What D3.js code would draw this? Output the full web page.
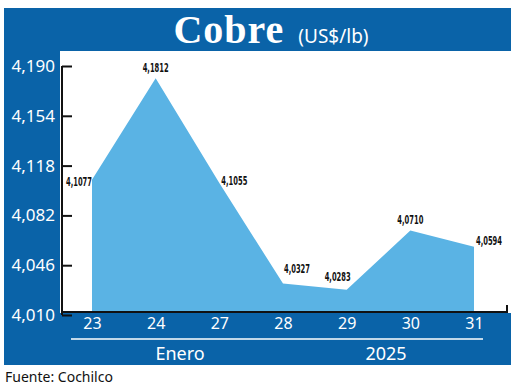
<!DOCTYPE html>
<html>
<head>
<meta charset="utf-8">
<script src="https://cdn.jsdelivr.net/npm/d3@7"></script>
<style>
  body { margin: 0; background: #fff; }
  svg { display: block; }
</style>
</head>
<body>
<div id="chart"></div>
<script>
// data
const days = ["23", "24", "27", "28", "29", "30", "31"]
const prices = [4.1077, 4.1812, 4.1055, 4.0327, 4.0283, 4.0710, 4.0594]
const priceLabels = ["4,1077", "4,1812", "4,1055", "4,0327", "4,0283", "4,0710", "4,0594"]
const yTicks = [4.010, 4.046, 4.082, 4.118, 4.154, 4.190]
const yTickLabels = ["4,010", "4,046", "4,082", "4,118", "4,154", "4,190"]

// where each value label sits relative to its point: [dx, dy, anchor]
const labelPlace = [[-26, 6, "start"], [0, -6, "middle"], [2, 2, "start"], [14, -11, "middle"],
                    [-9, -9, "middle"], [0, -7, "middle"], [2, -2, "start"]]

const W = 520, H = 387
const blue = "#0a63a8", areaBlue = "#5ab3e4"

const svg = d3.select("#chart").append("svg")
    .attr("width", W)
    .attr("height", H)

// blue panel
svg.append("rect").attr("x", 4).attr("y", 8).attr("width", 507).attr("height", 357).attr("fill", blue)
// white plot area
svg.append("rect").attr("x", 60).attr("y", 51).attr("width", 460).attr("height", 262).attr("fill", "#fff")

// title
const title = svg.append("text")
    .attr("x", 271).attr("y", 43)
    .attr("text-anchor", "middle")
    .attr("fill", "#fff")
title.append("tspan")
    .attr("font-family", "'Liberation Serif', 'DejaVu Serif', serif")
    .attr("font-weight", "bold")
    .attr("font-size", 40)
    .attr("letter-spacing", 1)
    .text("Cobre")
title.append("tspan")
    .attr("dx", 14)
    .attr("font-family", "'Noto Sans', sans-serif")
    .attr("font-size", 19)
    .text("(US$/lb)")

const x = d3.scalePoint().domain(days).range([92, 474])
const y = d3.scaleLinear().domain([4.010, 4.190]).range([315, 66])
const baseY = 312

const area = d3.area()
    .x((d, i) => x(days[i]))
    .y0(baseY)
    .y1(d => y(d))

svg.append("path")
    .datum(prices)
    .attr("d", area)
    .attr("fill", areaBlue)

// value labels, squeezed to look condensed
svg.append("g")
    .selectAll("text")
    .data(prices)
    .join("text")
    .attr("x", (d, i) => x(days[i]) + labelPlace[i][0])
    .attr("y", (d, i) => y(d) + labelPlace[i][1])
    .attr("text-anchor", (d, i) => labelPlace[i][2])
    .attr("font-family", "'DejaVu Sans', sans-serif")
    .attr("font-weight", "bold")
    .attr("font-size", 13)
    .attr("textLength", 26)
    .attr("lengthAdjust", "spacingAndGlyphs")
    .attr("fill", "#111")
    .text((d, i) => priceLabels[i])

// y axis
const yAxis = svg.append("g")
    .attr("transform", "translate(62,0)")
    .call(d3.axisRight(y).tickValues(yTicks).tickSize(10).tickFormat((d, i) => ""))
yAxis.select(".domain").attr("stroke", "#111").attr("stroke-width", 2).attr("d", `M0,${y(4.190)}V${y(4.010)}`)
yAxis.selectAll(".tick line").attr("stroke", "#111").attr("stroke-width", 2)

svg.append("g")
    .selectAll("text")
    .data(yTicks)
    .join("text")
    .attr("x", 55)
    .attr("y", d => y(d) + 6)
    .attr("text-anchor", "end")
    .attr("font-family", "'Noto Sans', sans-serif")
    .attr("font-size", 17)
    .attr("fill", "#fff")
    .text((d, i) => yTickLabels[i])

// x axis line
svg.append("path")
    .attr("d", `M62,${baseY}H507V${baseY - 7}`)
    .attr("fill", "none")
    .attr("stroke", "#111")
    .attr("stroke-width", 2)

// x labels
const xAxis = svg.append("g")
    .attr("transform", `translate(0,${baseY + 2})`)
    .call(d3.axisBottom(x).tickSize(0).tickPadding(4))
xAxis.select(".domain").remove()
xAxis.selectAll("text")
    .attr("font-family", "'Noto Sans', sans-serif")
    .attr("font-size", 16)
    .attr("fill", "#fff")

svg.append("line")
    .attr("x1", 71).attr("x2", 483)
    .attr("y1", 339).attr("y2", 339)
    .attr("stroke", "#fff").attr("stroke-width", 1.5)

svg.append("text").attr("x", 180).attr("y", 360)
    .attr("text-anchor", "middle")
    .attr("font-family", "'Noto Sans', sans-serif").attr("font-size", 18).attr("fill", "#fff")
    .text("Enero")
svg.append("text").attr("x", 386).attr("y", 360)
    .attr("text-anchor", "middle")
    .attr("font-family", "'Noto Sans', sans-serif").attr("font-size", 18).attr("fill", "#fff")
    .text("2025")

svg.append("text").attr("x", 5).attr("y", 382)
    .attr("font-family", "'Noto Sans', sans-serif").attr("font-size", 14).attr("fill", "#111")
    .text("Fuente: Cochilco")
</script>
</body>
</html>
